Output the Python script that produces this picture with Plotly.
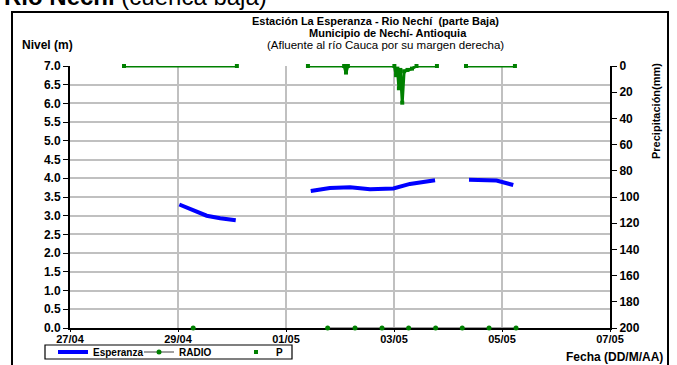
import plotly.graph_objects as go

# ---------------- data ----------------
esp_time = ["2011-04-29 00:35", "2011-04-29 06:45", "2011-04-29 12:45", "2011-04-29 18:45", "2011-04-30 01:40",
            None,
            "2011-05-01 11:00", "2011-05-01 19:30", "2011-05-02 04:30", "2011-05-02 13:20", "2011-05-02 23:45",
            "2011-05-03 07:05", "2011-05-03 18:15",
            None,
            "2011-05-04 09:20", "2011-05-04 21:35", "2011-05-05 05:00"]
esp_level = [3.30, 3.15, 3.00, 2.93, 2.88,
             None,
             3.66, 3.74, 3.76, 3.71, 3.73, 3.85, 3.95,
             None,
             3.96, 3.94, 3.82]

radio_time = ["2011-04-29 06:45", None,
              "2011-05-01 18:30", "2011-05-02 06:40", "2011-05-02 18:40", "2011-05-03 06:30",
              "2011-05-03 18:30", "2011-05-04 06:20", "2011-05-04 18:15", "2011-05-05 06:15"]
radio_level = [0.0, None, 0.0, 0.0, 0.0, 0.0, 0.0, 0.0, 0.0, 0.0]

p_time = ["2011-04-28 00:00", "2011-04-30 02:10", None,
          "2011-05-01 09:45", "2011-05-02 01:50", "2011-05-02 02:40", "2011-05-02 03:30",
          "2011-05-03 00:10", "2011-05-03 00:55", "2011-05-03 01:30", "2011-05-03 02:10",
          "2011-05-03 02:50", "2011-05-03 03:40", "2011-05-03 04:30", "2011-05-03 06:00",
          "2011-05-03 08:00", "2011-05-03 10:00", "2011-05-03 19:05", None,
          "2011-05-04 08:00", "2011-05-05 05:45"]
p_mm = [0, 0, None,
        0, 0, 5, 0,
        0, 7, 2, 17,
        3, 28, 4, 3,
        2, 0, 0, None,
        0, 0]

y_left_ticks = [i * 0.5 for i in range(15)]
y_right_ticks = list(range(0, 201, 20))

# ---------------- figure ----------------
W, H = 677, 365
L, R, T, B = 70, 67, 66, 37
PW, PH = W - L - R, H - T - B


def px(x):
    return (x - L) / PW


def py(y):
    return (H - B - y) / PH


FONT = "Arial, Liberation Sans, sans-serif"
TICKFONT = dict(family=FONT, size=12, color="black", weight="bold")
XTICKFONT = dict(family=FONT, size=11, color="black", weight="bold")
LEGFONT = dict(family=FONT, size=10, color="black", weight="bold")

fig = go.Figure()

fig.add_trace(go.Scatter(
    x=esp_time, y=esp_level, name="Esperanza", mode="lines",
    line=dict(color="#0000ff", width=4), cliponaxis=False, connectgaps=False,
    legend="legend"))

fig.add_trace(go.Scatter(
    x=radio_time, y=radio_level, name="RADIO", mode="lines+markers",
    line=dict(color="#a0a0a0", width=2),
    marker=dict(color="#008000", size=5, symbol="circle"),
    cliponaxis=False, connectgaps=False, legend="legend2"))

fig.add_trace(go.Scatter(
    x=p_time, y=p_mm, name="P", mode="lines+markers", yaxis="y2",
    line=dict(color="#008000", width=3),
    marker=dict(color="#008000", size=4, symbol="square"),
    cliponaxis=False, connectgaps=False, showlegend=False))

# legend entry for P (markers only)
fig.add_trace(go.Scatter(
    x=[None], y=[None], name="P", mode="markers", yaxis="y2",
    marker=dict(color="#008000", size=4, symbol="square"), legend="legend3"))


def leg(xpix):
    return dict(orientation="h", x=px(xpix), y=py(352), xanchor="left", yanchor="middle",
                bgcolor="rgba(0,0,0,0)", borderwidth=0, font=LEGFONT, itemwidth=30)


fig.update_layout(
    width=W, height=H,
    margin=dict(l=L, r=R, t=T, b=B, pad=0, autoexpand=False),
    paper_bgcolor="white", plot_bgcolor="white",
    font=dict(family=FONT, size=10, color="black"),
    showlegend=True,
    legend=leg(53), legend2=leg(139), legend3=leg(236),
    xaxis=dict(
        type="date", range=["2011-04-27", "2011-05-07"],
        tick0="2011-04-27", dtick=2 * 86400000, tickformat="%d/%m",
        showgrid=True, gridcolor="#c0c0c0", gridwidth=1.5,
        showline=True, linecolor="black", linewidth=1.5,
        ticks="outside", ticklen=2, tickcolor="black", tickfont=XTICKFONT,
        ticklabelstandoff=-2,
        zeroline=False, layer="below traces", fixedrange=True,
    ),
    yaxis=dict(
        range=[0, 7], tickvals=y_left_ticks, tickformat=".1f",
        showgrid=True, gridcolor="#c0c0c0", gridwidth=1.5,
        showline=True, linecolor="black", linewidth=2,
        ticks="outside", ticklen=5, tickcolor="black", tickfont=TICKFONT,
        zeroline=False, layer="below traces",
    ),
    yaxis2=dict(
        overlaying="y", side="right", range=[200, 0], tickvals=y_right_ticks,
        showgrid=False, showline=True, linecolor="black", linewidth=2,
        ticks="outside", ticklen=5, tickcolor="black", tickfont=TICKFONT,
        zeroline=False, layer="below traces",
    ),
)

shapes = [
    dict(type="rect", xref="paper", yref="paper",
         x0=px(12), x1=px(668), y0=py(375), y1=py(12),
         line=dict(color="black", width=2), fillcolor="rgba(0,0,0,0)", layer="below"),
    dict(type="rect", xref="paper", yref="paper",
         x0=px(45), x1=px(292), y0=py(359), y1=py(345),
         line=dict(color="black", width=1.2), fillcolor="rgba(0,0,0,0)", layer="above"),
]
fig.update_layout(shapes=shapes)

ann = [
    dict(text="<b>Río Nechí</b> (cuenca baja)", x=px(2), y=py(12), xanchor="left", yanchor="bottom",
         font=dict(family=FONT, size=24, color="black")),
    dict(text="<b>Estación La Esperanza - Rio Nechí  (parte Baja)</b>", x=px(375), y=py(21),
         xanchor="center", yanchor="middle", font=dict(family=FONT, size=11, color="black")),
    dict(text="<b>Municipio de Nechí- Antioquia</b>", x=px(388), y=py(33),
         xanchor="center", yanchor="middle", font=dict(family=FONT, size=11, color="black")),
    dict(text="(Afluente al río Cauca por su margen derecha)", x=px(385), y=py(45),
         xanchor="center", yanchor="middle", font=dict(family=FONT, size=11.5, color="black")),
    dict(text="<b>Nivel (m)</b>", x=px(20), y=py(45), xanchor="left", yanchor="middle",
         font=dict(family=FONT, size=12, color="black")),
    dict(text="<b>Fecha (DD/M/AA)</b>", x=px(665), y=py(357), xanchor="right", yanchor="middle",
         font=dict(family=FONT, size=12, color="black")),
    dict(text="<b>Precipitación(mm)</b>", x=px(656), y=py(111), xanchor="center", yanchor="middle",
         textangle=-90, font=dict(family=FONT, size=11, color="black")),
]
for a in ann:
    a.update(xref="paper", yref="paper", showarrow=False)
fig.update_layout(annotations=ann)

fig.write_html("out.html", config={"displayModeBar": False},
               post_script="document.body.style.margin='0';document.body.style.overflow='hidden';")
